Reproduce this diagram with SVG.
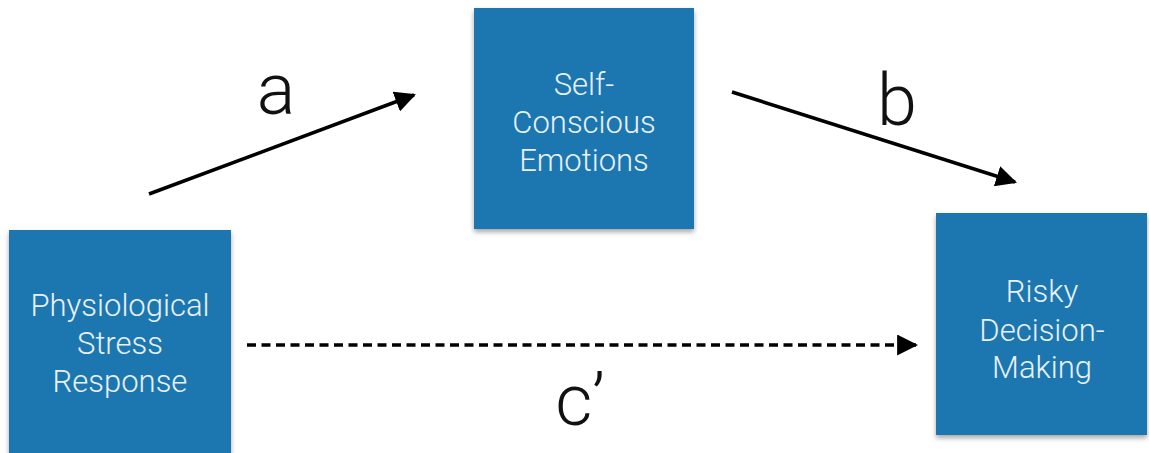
<svg xmlns="http://www.w3.org/2000/svg" width="1149" height="453" viewBox="0 0 1149 453">
<style>
.box{fill:#1c77b1;filter:url(#sh)}
.lbl{font-family:Roboto,"Liberation Sans",Arial,sans-serif;font-weight:300;font-size:31px;fill:#e9f1f7;text-anchor:middle}
.big{font-family:Roboto,"Liberation Sans",Arial,sans-serif;font-weight:300;font-size:72px;fill:#111;text-anchor:middle}
.edge{stroke:#000;stroke-width:3.5;fill:none}
</style>
<defs>
<filter id="sh" x="-10%" y="-10%" width="120%" height="125%">
<feDropShadow dx="0" dy="3" stdDeviation="2.5" flood-color="#000" flood-opacity="0.35"/>
</filter>
<marker id="ah" viewBox="0 0 10 10" refX="9" refY="5" markerWidth="6" markerHeight="6" markerUnits="strokeWidth" orient="auto">
<path d="M0,0 L10,5 L0,10 z" fill="#000"/>
</marker>
</defs>
<rect width="1149" height="453" fill="#fff"/>
<g id="connectors">
<line class="edge" x1="149" y1="194" x2="414" y2="95" marker-end="url(#ah)"/>
<line class="edge" x1="732" y1="92" x2="1015" y2="182" marker-end="url(#ah)"/>
<line class="edge" x1="247" y1="345" x2="916" y2="345" stroke-dasharray="9 5.5" marker-end="url(#ah)"/>
<text class="big" x="276" y="114">a</text>
<text class="big" x="897" y="125">b</text>
<text class="big" x="580" y="425">c’</text>
</g>
<g id="node-stress">
<rect class="box" x="9" y="230" width="222" height="230"/>
<text class="lbl" x="120" y="316">Physiological</text>
<text class="lbl" x="120" y="354">Stress</text>
<text class="lbl" x="120" y="392">Response</text>
</g>
<g id="node-emotions">
<rect class="box" x="474" y="8" width="220" height="221"/>
<text class="lbl" x="584" y="95">Self-</text>
<text class="lbl" x="584" y="133">Conscious</text>
<text class="lbl" x="584" y="171">Emotions</text>
</g>
<g id="node-risky">
<rect class="box" x="936" y="213" width="211" height="222"/>
<text class="lbl" x="1042" y="302">Risky</text>
<text class="lbl" x="1042" y="341">Decision-</text>
<text class="lbl" x="1042" y="378">Making</text>
</g>
</svg>
